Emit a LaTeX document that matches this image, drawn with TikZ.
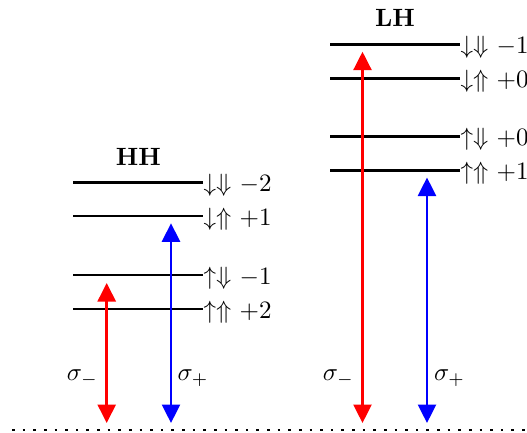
\documentclass[tikz,border=0pt]{standalone}
\usetikzlibrary{arrows.meta}
\begin{document}
\begin{tikzpicture}[x=0.4pt,y=-0.4pt,
  level/.style={line width=1.08pt},
  tip/.tip={Triangle[width=7.2pt,length=7.4pt]},
  trans/.style={line width=1.08pt,tip-tip},
  lab/.style={anchor=base west,inner sep=0pt,font=\fontsize{10}{12}\selectfont},
  ttl/.style={anchor=base,inner sep=0pt,font=\fontsize{10}{12}\selectfont\bfseries},
  sig/.style={inner sep=0pt,font=\fontsize{10}{12}\selectfont},
]
\useasboundingbox (0,0) rectangle (527,433);
% ground
\coordinate (g0) at (12,430);
\coordinate (g1) at (545,430);
\draw[line width=1.05pt,dash pattern=on 1.05pt off 3.2pt] (g0) -- (g1);
% HH levels
\node[ttl] (hh) at (138.5,165) {HH};
\foreach \n/\y/\t in {a/182.7/{$\downarrow\Downarrow$ $-2$},b/216/{$\downarrow\Uparrow$ $+1$},c/275/{$\uparrow\Downarrow$ $-1$},d/309/{$\uparrow\Uparrow$ $+2$}}{
  \coordinate (hh\n l) at (73,\y);
  \coordinate (hh\n r) at (203,\y);
  \draw[level] (hh\n l) -- (hh\n r);
  \node[lab] (hh\n t) at (203,\y+9) {\t};
}
% LH levels
\node[ttl] (lh) at (395,26.7) {LH};
\foreach \n/\y/\t in {a/44.3/{$\downarrow\Downarrow$ $-1$},b/78.3/{$\downarrow\Uparrow$ $+0$},c/136.7/{$\uparrow\Downarrow$ $+0$},d/170.7/{$\uparrow\Uparrow$ $+1$}}{
  \coordinate (lh\n l) at (330,\y);
  \coordinate (lh\n r) at (460,\y);
  \draw[level] (lh\n l) -- (lh\n r);
  \node[lab] (lh\n t) at (460,\y+9) {\t};
}
% transitions
\coordinate (hr1) at (106.7,283); \coordinate (hr0) at (106.7,423);
\coordinate (hb1) at (171,223.3); \coordinate (hb0) at (171,423);
\coordinate (lr1) at (362.5,51.7); \coordinate (lr0) at (362.5,423);
\coordinate (lb1) at (427,177.5); \coordinate (lb0) at (427,423);
\draw[trans,red] (hr0) -- (hr1);
\draw[trans,blue] (hb0) -- (hb1);
\draw[trans,red] (lr0) -- (lr1);
\draw[trans,blue] (lb0) -- (lb1);
\node[sig,anchor=base east] (s1) at (98.5,380.7) {$\sigma_-$};
\node[sig,anchor=base west] (s2) at (177,380.7) {$\sigma_+$};
\node[sig,anchor=base east] (s3) at (354.5,380.7) {$\sigma_-$};
\node[sig,anchor=base west] (s4) at (433.5,380.7) {$\sigma_+$};
\end{tikzpicture}
\end{document}
